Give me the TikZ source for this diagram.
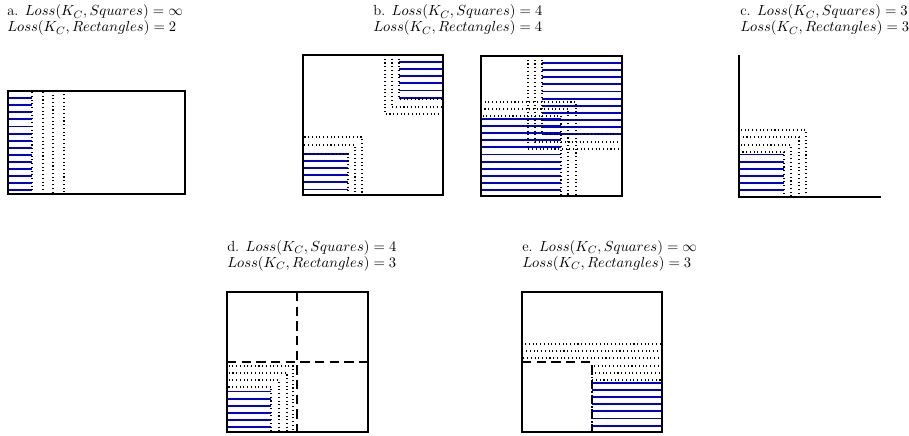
\documentclass[tikz,border=0pt]{standalone}
\usepackage{amsmath}
\tikzset{
  border/.style={line width=1.3pt, black},
  hatch/.style={line width=1.4pt, blue!85!black},
  dots/.style={line width=0.8pt, dotted, black},
  dashline/.style={line width=1.3pt, dash pattern=on 7pt off 4pt, black},
  lbl/.style={anchor=base west, inner sep=0pt, font=\fontsize{11}{12}\selectfont}
}
\newcommand\myhatch[5]{\foreach \k in {0,...,#5} \draw[hatch] (#1,{#2+\k*7.1}) -- (#3,{#2+\k*7.1});}
\begin{document}
\begin{tikzpicture}[x=0.75pt,y=-0.75pt]
\useasboundingbox (0,0) rectangle (909,435);
% labels
\node[lbl] (la1) at (7,16) {a. $Loss(K_C,Squares)=\infty$};
\node[lbl] (la2) at (7,32) {$Loss(K_C,Rectangles)=2$};
\node[lbl] (lb1) at (373,16) {b. $Loss(K_C,Squares)=4$};
\node[lbl] (lb2) at (373,32) {$Loss(K_C,Rectangles)=4$};
\node[lbl] (lc1) at (740,16) {c. $Loss(K_C,Squares)=3$};
\node[lbl] (lc2) at (740,32) {$Loss(K_C,Rectangles)=3$};
\node[lbl] (ld1) at (227,251) {d. $Loss(K_C,Squares)=4$};
\node[lbl] (ld2) at (227,267) {$Loss(K_C,Rectangles)=3$};
\node[lbl] (le1) at (522,251) {e. $Loss(K_C,Squares)=\infty$};
\node[lbl] (le2) at (522,267) {$Loss(K_C,Rectangles)=3$};
% panel a
\myhatch{8}{91}{32}{194}{14}
\foreach \xr in {32,43,53,64} \draw[dots] (8,91) rectangle (\xr,194);
\draw[border] (8,91) rectangle (185,194);
% panel b1
\myhatch{399}{55}{443}{99}{6}
\myhatch{303}{154}{348}{195}{5}
\draw[dots] (399,55) rectangle (443,99);
\draw[dots] (392,55) rectangle (443,107);
\draw[dots] (385,55) rectangle (443,114);
\draw[dots] (303,154) rectangle (348,195);
\draw[dots] (303,145) rectangle (355,195);
\draw[dots] (303,137) rectangle (362,195);
\draw[border] (303,55) rectangle (443,195);
% panel b2
\myhatch{542}{56}{622}{135}{11}
\myhatch{481}{119}{561}{196}{10}
\draw[dots] (542,56) rectangle (622,134);
\draw[dots] (535,56) rectangle (622,142);
\draw[dots] (528,56) rectangle (622,149);
\draw[dots] (481,116) rectangle (561,196);
\draw[dots] (481,109) rectangle (568,196);
\draw[dots] (481,102) rectangle (576,196);
\draw[border] (481,56) rectangle (622,196);
% panel c
\myhatch{739}{154.5}{784}{197}{5}
\draw[dots] (739,152) rectangle (784,197);
\draw[dots] (739,145) rectangle (791,197);
\draw[dots] (739,137) rectangle (799,197);
\draw[dots] (739,130) rectangle (806,197);
\draw[border] (739,55) -- (739,197) -- (881,197);
% panel d
\myhatch{227}{391.5}{271}{432}{5}
\draw[dots] (227,387) rectangle (271,432);
\draw[dots] (227,380) rectangle (279,432);
\draw[dots] (227,373) rectangle (287,432);
\draw[dots] (227,366) rectangle (293,432);
\draw[dashline] (297,292) -- (297,432);
\draw[dashline] (227,362) -- (368,362);
\draw[border] (227,292) rectangle (368,432);
% panel e
\myhatch{592}{383}{662}{432}{6}
\draw[dots] (592,380) rectangle (662,432);
\draw[dots] (592,373) rectangle (662,432);
\draw[dots] (592,366) rectangle (662,432);
\draw[dots] (522,358) rectangle (662,432);
\draw[dots] (522,351) rectangle (662,432);
\draw[dots] (522,344) rectangle (662,432);
\draw[dashline] (522,362) -- (592,362) -- (592,432);
\draw[border] (522,292) rectangle (662,432);
\end{tikzpicture}
\end{document}
